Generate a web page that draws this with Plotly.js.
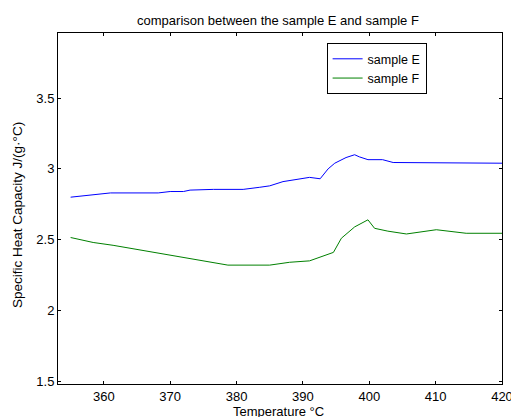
<!DOCTYPE html>
<html><head><meta charset="utf-8">
<script src="https://cdn.plot.ly/plotly-3.0.1.min.js"></script>
<style>html,body{margin:0;padding:0;background:#fff}#chart{width:511px;height:417px}</style>
</head><body><div id="chart"></div>
<script>
const seriesNames = ["sample E", "sample F"];
const tempE = [355, 358.4, 361, 368.2, 370, 372, 373, 376.5, 381, 383.5, 385, 387, 390.5, 391, 392.6, 393.8, 394.8, 396.5, 397.8, 398.5, 399.8, 402, 403.6, 412.6, 413.6, 420];
const capE  = [2.80, 2.82, 2.83, 2.83, 2.84, 2.84, 2.85, 2.855, 2.855, 2.87, 2.88, 2.91, 2.94, 2.94, 2.93, 3.00, 3.04, 3.08, 3.10, 3.085, 3.065, 3.065, 3.045, 3.045, 3.04, 3.04];
const tempF = [355, 358.4, 361.4, 378.7, 385, 386.5, 388, 391, 392.1, 394.6, 395.8, 397.8, 399.8, 400.8, 402.8, 405.6, 410.1, 412.6, 414.6, 420];
const capF  = [2.515, 2.48, 2.46, 2.32, 2.32, 2.33, 2.34, 2.35, 2.37, 2.41, 2.51, 2.59, 2.64, 2.58, 2.56, 2.54, 2.57, 2.555, 2.545, 2.545];
const xTicks = [360, 370, 380, 390, 400, 410, 420];
const yTicks = [1.5, 2, 2.5, 3, 3.5];
const yTickLabels = ["1.5", "2", "2.5", "3", "3.5"];
const xTitle = "Temperature °C";
const yTitle = "Specific Heat Capacity J/(g·°C)";

const font = {family: "Liberation Sans, Arial, sans-serif", size: 13, color: "#000"};
const data = [
  {x: tempE, y: capE, name: seriesNames[0], type: "scatter", mode: "lines", line: {color: "#0000ff", width: 1}},
  {x: tempF, y: capF, name: seriesNames[1], type: "scatter", mode: "lines", line: {color: "#008000", width: 1}}
];
const axisCommon = {showline: true, linecolor: "#000", linewidth: 1, mirror: "ticks", ticks: "inside", ticklen: 3, tickcolor: "#000", showgrid: false, zeroline: false, tickfont: font, ticklabeloverflow: "allow"};
const layout = {
  width: 511, height: 417,
  margin: {l: 58, r: 9, t: 33, b: 33},
  paper_bgcolor: "#fff", plot_bgcolor: "#fff",
  font: font,
  title: {text: "comparison between the sample E and sample F", font: {family: font.family, size: 13, color: "#000"}, x: 0.544, xanchor: "center", y: 0.952, yanchor: "middle"},
  xaxis: Object.assign({}, axisCommon, {range: [353.1, 420], tickvals: xTicks, ticktext: xTicks.map(String)}),
  yaxis: Object.assign({}, axisCommon, {range: [1.48, 3.96], tickvals: yTicks, ticktext: yTickLabels}),
  annotations: [
    {text: xTitle, xref: "paper", yref: "paper", x: 0.497, y: -0.077, xanchor: "center", yanchor: "middle", showarrow: false, font: font},
    {text: yTitle, xref: "paper", yref: "paper", x: -0.09, y: 0.4815, xanchor: "center", yanchor: "middle", textangle: -90, showarrow: false, font: {family: font.family, size: 13.5, color: "#000"}}
  ],
  showlegend: true,
  legend: {x: 0.605, y: 0.971, xanchor: "left", yanchor: "top", bordercolor: "#000", borderwidth: 1, bgcolor: "#fff", font: {family: font.family, size: 12.5, color: "#000"}, tracegroupgap: 0, entrywidth: 108}
};
Plotly.newPlot("chart", data, layout, {displayModeBar: false, staticPlot: true});
</script></body></html>
